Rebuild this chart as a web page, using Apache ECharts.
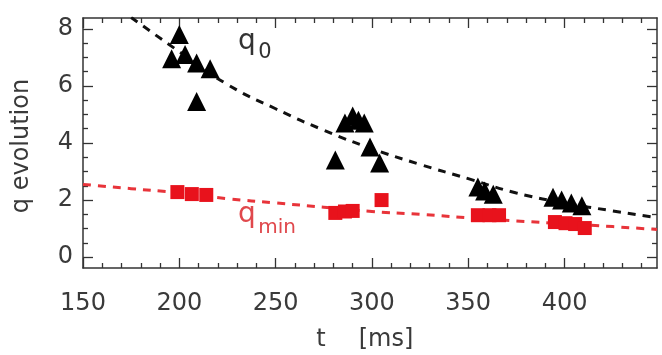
<!DOCTYPE html>
<html>
<head>
<meta charset="utf-8">
<script src="https://cdn.jsdelivr.net/npm/echarts@6/dist/echarts.min.js"></script>
<style>
  html, body { margin: 0; padding: 0; background: #fff; }
  #chart { width: 662px; height: 355px; }
</style>
</head>
<body>
<div id="chart"></div>
<script>
// q0 measurements: [t (ms), q]
const q0Points = [
  [196, 6.95], [200, 7.8], [203, 7.1], [209, 6.8], [216, 6.6], [209, 5.45],
  [281, 3.4], [286, 4.7], [290, 4.95], [293, 4.8], [296, 4.7], [299, 3.86], [304, 3.3],
  [355, 2.46], [358.5, 2.32], [363, 2.2],
  [394, 2.1], [398.5, 2.0], [403.5, 1.9], [409, 1.8]
];

// q_min measurements: [t (ms), q]
const qminPoints = [
  [199, 2.28], [206.5, 2.21], [214, 2.18],
  [281, 1.55], [286, 1.6], [290, 1.62], [305, 2.0],
  [355, 1.47], [361, 1.47], [366, 1.47],
  [395, 1.23], [400.5, 1.19], [405.5, 1.16], [410.5, 1.02]
];

// fitted trend curves
const q0FitT = [175, 200, 225, 250, 275, 300, 325, 350, 375, 400, 425, 448];
const q0FitQ = [8.4, 7.2, 6.05, 5.2, 4.45, 3.8, 3.25, 2.75, 2.25, 1.9, 1.62, 1.38];
const qminFitT = [150, 175, 200, 225, 250, 275, 300, 325, 350, 375, 400, 425, 448];
const qminFitQ = [2.55, 2.4, 2.25, 2.05, 1.9, 1.75, 1.6, 1.5, 1.38, 1.27, 1.17, 1.07, 0.97];

// axis ticks
const xMajorTicks = [150, 200, 250, 300, 350, 400];
const xMinorTicks = [160, 170, 180, 190, 210, 220, 230, 240, 260, 270, 280, 290,
  310, 320, 330, 340, 360, 370, 380, 390, 410, 420, 430, 440];
const yMajorTicks = [0, 2, 4, 6, 8];
const yMinorTicks = [0.5, 1, 1.5, 2.5, 3, 3.5, 4.5, 5, 5.5, 6.5, 7, 7.5];

const X_MIN = 150, X_MAX = 448, Y_MIN = -0.38, Y_MAX = 8.38;
const FONT = 'DejaVu Sans';
const TEXT = '#3a3a3a';
const AXIS = '#333';

function pair(ts, qs) { return ts.map((t, i) => [t, qs[i]]); }

function xAx(pos, ticks, len, labels, line) {
  return {
    type: 'value', position: pos, min: X_MIN, max: X_MAX, gridIndex: 0,
    splitLine: { show: false },
    axisLine: { show: line, onZero: false, lineStyle: { color: AXIS, width: 1.5 } },
    axisTick: { show: true, inside: true, length: len, customValues: ticks, lineStyle: { color: AXIS, width: 1.3 } },
    axisLabel: labels ? { show: true, customValues: xMajorTicks, fontFamily: FONT, fontSize: 24, color: TEXT, margin: 24 } : { show: false }
  };
}
function yAx(pos, ticks, len, labels, line) {
  return {
    type: 'value', position: pos, min: Y_MIN, max: Y_MAX, gridIndex: 0,
    splitLine: { show: false },
    axisLine: { show: line, onZero: false, lineStyle: { color: AXIS, width: 1.5 } },
    axisTick: { show: true, inside: true, length: len, customValues: ticks, lineStyle: { color: AXIS, width: 1.3 } },
    axisLabel: labels ? { show: true, customValues: yMajorTicks, fontFamily: FONT, fontSize: 24, color: TEXT, margin: 10 } : { show: false }
  };
}

const chart = echarts.init(document.getElementById('chart'), null, { renderer: 'canvas' });
chart.setOption({
  animation: false,
  backgroundColor: '#fff',
  grid: { left: 83, right: 5, top: 18, bottom: 87, containLabel: false },
  xAxis: [
    xAx('bottom', xMajorTicks, 10, true, true),
    xAx('top', xMajorTicks, 10, false, true),
    xAx('bottom', xMinorTicks, 5, false, false),
    xAx('top', xMinorTicks, 5, false, false)
  ],
  yAxis: [
    yAx('left', yMajorTicks, 10, true, true),
    yAx('right', yMajorTicks, 10, false, true),
    yAx('left', yMinorTicks, 5, false, false),
    yAx('right', yMinorTicks, 5, false, false)
  ],
  series: [
    {
      type: 'line', data: pair(q0FitT, q0FitQ), smooth: true, showSymbol: false,
      lineStyle: { color: '#111', width: 3, type: [8, 7] }, z: 2
    },
    {
      type: 'line', data: pair(qminFitT, qminFitQ), smooth: true, showSymbol: false,
      lineStyle: { color: '#e8343a', width: 3, type: [8, 7] }, z: 2
    },
    {
      type: 'scatter', data: qminPoints, symbol: 'rect', symbolSize: 14,
      itemStyle: { color: '#e8121c', opacity: 1 }, z: 3
    },
    {
      type: 'scatter', data: q0Points, symbol: 'triangle', symbolSize: 19,
      itemStyle: { color: '#000', opacity: 1 }, z: 4
    }
  ],
  graphic: [
    { type: 'text', x: 22, y: 146, rotation: Math.PI / 2,
      style: { text: 'q evolution', fontFamily: FONT, fontSize: 24, fill: TEXT, align: 'center', verticalAlign: 'middle' } },
    { type: 'text', x: 321, y: 340, style: { text: 't', fontFamily: FONT, fontSize: 24, fill: TEXT, align: 'center', verticalAlign: 'middle' } },
    { type: 'text', x: 386, y: 340, style: { text: '[ms]', fontFamily: FONT, fontSize: 24, fill: TEXT, align: 'center', verticalAlign: 'middle' } },
    { type: 'text', x: 247, y: 42, style: { text: 'q', fontFamily: FONT, fontSize: 28, fill: '#333', align: 'center', verticalAlign: 'middle' } },
    { type: 'text', x: 265, y: 53, style: { text: '0', fontFamily: FONT, fontSize: 21, fill: '#333', align: 'center', verticalAlign: 'middle' } },
    { type: 'text', x: 247, y: 215, style: { text: 'q', fontFamily: FONT, fontSize: 28, fill: '#e0484c', align: 'center', verticalAlign: 'middle' } },
    { type: 'text', x: 277, y: 228, style: { text: 'min', fontFamily: FONT, fontSize: 20, fill: '#e0484c', align: 'center', verticalAlign: 'middle' } }
  ]
});
</script>
</body>
</html>
